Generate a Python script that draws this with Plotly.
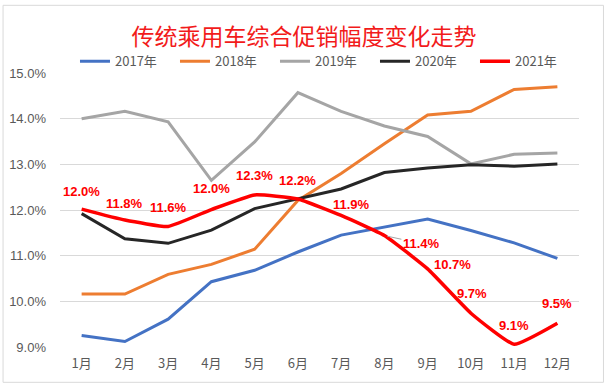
import plotly.graph_objects as go

months = ["1月", "2月", "3月", "4月", "5月", "6月", "7月", "8月", "9月", "10月", "11月", "12月"]
series_names = ["2017年", "2018年", "2019年", "2020年", "2021年"]
v2017 = [9.25, 9.12, 9.61, 10.43, 10.68, 11.08, 11.45, 11.62, 11.80, 11.55, 11.28, 10.94]
v2018 = [10.16, 10.16, 10.59, 10.81, 11.14, 12.21, 12.80, 13.45, 14.08, 14.16, 14.64, 14.70]
v2019 = [14.00, 14.16, 13.93, 12.65, 13.49, 14.57, 14.16, 13.84, 13.61, 13.01, 13.22, 13.25]
v2020 = [11.92, 11.37, 11.27, 11.56, 12.03, 12.24, 12.46, 12.82, 12.92, 12.99, 12.96, 13.01]
v2021 = [12.02, 11.78, 11.64, 12.01, 12.33, 12.24, 11.88, 11.44, 10.71, 9.74, 9.06, 9.52]
y_ticks = [9, 10, 11, 12, 13, 14, 15]

colors = ["#4472C4", "#ED7D31", "#A5A5A5", "#262626", "#FF0000"]
widths = [3, 3, 3, 3, 3.5]
label_shift = [(0, 18), (0, 17), (0, 19), (0, 21), (0, 19), (0, 19), (10, 11), (37, -8),
               (25, 4), (1, 20), (0, 19), (0, 20)]

CJK = "Noto Sans CJK SC, Microsoft YaHei, sans-serif"

fig = go.Figure()
for name, vals, c, w in zip(series_names, [v2017, v2018, v2019, v2020, v2021], colors, widths):
    fig.add_trace(go.Scatter(
        x=months, y=vals, name=name, mode="lines",
        line=dict(color=c, width=w, shape="spline" if name == "2021年" else "linear", smoothing=0.4),
        hoverinfo="x+y+name",
    ))

annotations = []
for i, (m, v) in enumerate(zip(months, v2021)):
    dx, dy = label_shift[i]
    txt = f"<b>{v:.1f}%</b>"
    font = dict(family="Arial, Liberation Sans", size=13, color="#FF0000")
    if i == 7:
        annotations.append(dict(x=m, y=v, xref="x", yref="y", text=txt, showarrow=True,
                                ax=dx, ay=-dy, arrowhead=0, arrowwidth=1, arrowcolor="#A6A6A6",
                                standoff=3, font=font))
    else:
        annotations.append(dict(x=m, y=v, xref="x", yref="y", text=txt, showarrow=False,
                                xshift=dx, yshift=dy, font=font))

L, R, T, B = 60, 28.5, 72.7, 42.3
W, H = 608, 389
pw, ph = W - L - R, H - T - B

def px(x):
    return (x - L) / pw

def py(y):
    return (H - B - y) / ph

fig.update_layout(
    width=W, height=H,
    margin=dict(l=L, r=R, t=T, b=B, pad=0, autoexpand=False),
    paper_bgcolor="white", plot_bgcolor="white",
    title=dict(text="传统乘用车综合促销幅度变化走势", x=0.5, xanchor="center", y=1 - 37 / H, yanchor="middle",
               font=dict(family=CJK, size=23, color="#F21B1B")),
    legend=dict(orientation="h", x=px(75), xanchor="left", y=py(61), yanchor="middle",
                font=dict(family=CJK, size=13, color="#595959"), bgcolor="rgba(0,0,0,0)",
                entrywidth=55, entrywidthmode="pixels", itemwidth=30, tracegroupgap=0),
    xaxis=dict(type="category", range=[-0.5, 11.5], showgrid=False, showline=False, zeroline=False,
               tickfont=dict(family=CJK, size=13, color="#595959"), ticks="", ticklabelstandoff=7,
               fixedrange=True),
    yaxis=dict(range=[9, 15], tickvals=y_ticks, ticktext=[f"{t:.1f}%" for t in y_ticks],
               showgrid=True, gridcolor="#D9D9D9", gridwidth=1, zeroline=False, showline=False,
               tickfont=dict(family="Arial, Liberation Sans", size=13, color="#595959"), ticks="",
               ticklabelstandoff=13, fixedrange=True),
    annotations=annotations,
    shapes=[dict(type="rect", xref="paper", yref="paper", x0=px(3), x1=px(604), y0=py(382), y1=py(5),
                 line=dict(color="#D9D9D9", width=1), fillcolor="rgba(0,0,0,0)", layer="below")],
    showlegend=True,
)

fig.write_html("out.html", config={"displayModeBar": False},
               post_script="document.body.style.margin='0';document.body.style.padding='0';")
